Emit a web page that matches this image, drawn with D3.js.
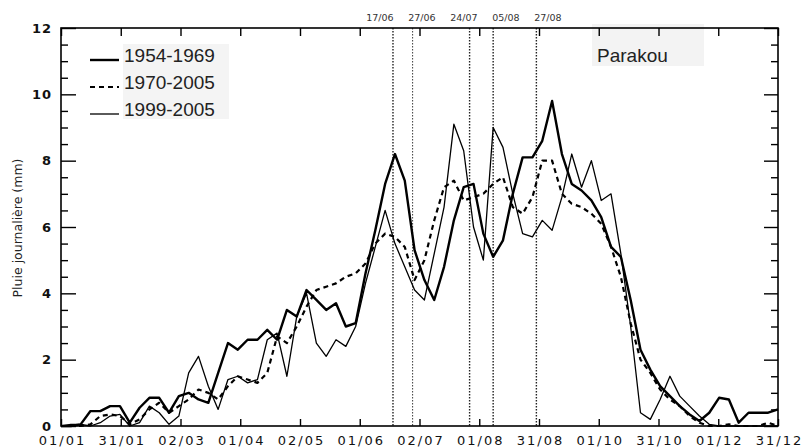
<!DOCTYPE html>
<html>
<head>
<meta charset="utf-8">
<script src="https://cdn.jsdelivr.net/npm/d3@7/dist/d3.min.js"></script>
<style>
  body { margin: 0; background: #fff; }
</style>
</head>
<body>
<svg width="803" height="448"></svg>
<script>
// Daily rainfall (mm), one value every 5 days from 01/01
const rain1954 = [0, 0, 0.05, 0.45, 0.45, 0.6, 0.6, 0.1, 0.55, 0.85, 0.85, 0.4, 0.9, 1.0, 0.8, 0.7,
  1.6, 2.5, 2.3, 2.6, 2.6, 2.9, 2.6, 3.5, 3.3, 4.1, 3.8, 3.5, 3.7, 3.0, 3.1, 4.6, 5.9, 7.3, 8.2, 7.4,
  5.3, 4.4, 3.8, 4.8, 6.2, 7.2, 7.3, 5.8, 5.1, 5.6, 7.0, 8.1, 8.1, 8.6, 9.8, 8.2, 7.3, 7.1, 6.8, 6.3,
  5.4, 5.1, 3.8, 2.3, 1.7, 1.2, 0.9, 0.6, 0.35, 0.15, 0.4, 0.85, 0.8, 0.1, 0.4, 0.4, 0.4, 0.5]
const rain1970 = [0, 0, 0, 0.05, 0.3, 0.35, 0.3, 0.05, 0.2, 0.5, 0.7, 0.4, 0.6, 0.8, 1.1, 1.0,
  0.8, 1.2, 1.5, 1.4, 1.3, 1.6, 2.7, 2.5, 3.0, 3.6, 4.1, 4.2, 4.3, 4.5, 4.6, 4.9, 5.5, 5.8, 5.7, 5.4,
  4.4, 5.0, 6.2, 7.2, 7.4, 6.8, 6.9, 7.0, 7.3, 7.5, 6.6, 6.4, 6.9, 8.0, 8.0, 7.0, 6.7, 6.6, 6.4, 6.1,
  5.4, 4.5, 3.1, 2.0, 1.6, 1.1, 0.8, 0.6, 0.3, 0.1, 0, 0, 0.05, 0, 0, 0, 0.1, 0]
const rain1999 = [0, 0.05, 0.05, 0, 0.1, 0.3, 0.35, 0, 0.1, 0.6, 0.4, 0.05, 0.3, 1.6, 2.1, 1.2,
  0.5, 1.4, 1.5, 1.3, 1.4, 2.6, 2.8, 1.5, 3.3, 4.0, 2.5, 2.1, 2.6, 2.4, 3.0, 4.3, 5.4, 6.5, 5.5, 4.8,
  4.1, 3.8, 5.2, 6.6, 9.1, 8.3, 6.0, 5.0, 9.0, 8.4, 7.0, 5.8, 5.7, 6.2, 5.9, 6.9, 8.2, 7.2, 8.0, 6.8,
  7.0, 5.2, 3.0, 0.4, 0.2, 0.8, 1.5, 0.9, 0.6, 0.3, 0.05, 0, 0, 0, 0, 0, 0, 0]

const seriesNames = ['1954-1969', '1970-2005', '1999-2005']
const xTickLabels = ['01/01', '31/01', '02/03', '01/04', '02/05', '01/06', '02/07',
  '01/08', '31/08', '01/10', '31/10', '01/12', '31/12']
const yTicks = [0, 2, 4, 6, 8, 10, 12]
const markerLabels = ['17/06', '27/06', '24/07', '05/08', '27/08']
const markerDays = [169, 179, 208, 220, 242]
const station = 'Parakou'

let svg = d3.select('svg')
const plotLeft = 61, plotRight = 778, plotTop = 28, plotBottom = 426

const x = d3.scaleLinear().domain([0, 365]).range([plotLeft, plotRight])
const y = d3.scaleLinear().domain([0, 12]).range([plotBottom, plotTop])

// grey boxes behind legend text and station name
svg.append('rect').attr('x', 123).attr('y', 44).attr('width', 106).attr('height', 75).attr('fill', '#f4f4f4')
svg.append('rect').attr('x', 592).attr('y', 24).attr('width', 112).attr('height', 42).attr('fill', '#f3f3f3')

// vertical date markers
svg.append('g')
  .selectAll('line')
  .data(markerDays)
  .enter()
  .append('line')
  .attr('x1', d => x(d)).attr('x2', d => x(d))
  .attr('y1', plotTop).attr('y2', plotBottom)
  .attr('stroke', '#222')
  .attr('stroke-width', (d, i) => (i === 1 ? 0.9 : 1.4))
  .attr('stroke-dasharray', '1.5,1.5')

// spread the marker labels so they do not overlap
let lx = markerDays.map(d => x(d))
const minGap = 42
for (let k = 0; k < 50; k++) {
  for (let i = 0; i < lx.length - 1; i++) {
    const gap = lx[i + 1] - lx[i]
    if (gap < minGap) {
      const push = (minGap - gap) / 2
      lx[i] -= push
      lx[i + 1] += push
    }
  }
}
svg.append('g')
  .selectAll('text')
  .data(markerLabels)
  .enter()
  .append('text')
  .attr('x', (d, i) => lx[i] + 3)
  .attr('y', 21)
  .attr('text-anchor', 'middle')
  .attr('font-family', 'DejaVu Sans, sans-serif')
  .attr('font-size', 9.5)
  .attr('fill', '#333')
  .text(d => d)

// curves
const line = d3.line()
  .x((d, i) => x(i * 5))
  .y(d => y(d))
const styles = [
  { w: 2.4, dash: null },
  { w: 2.2, dash: '5,4' },
  { w: 1.3, dash: null }
]
const allSeries = [rain1954, rain1970, rain1999]
svg.append('g')
  .selectAll('path')
  .data(allSeries)
  .enter()
  .append('path')
  .attr('d', line)
  .attr('fill', 'none')
  .attr('stroke', '#000')
  .attr('stroke-linejoin', 'round')
  .attr('stroke-width', (d, i) => styles[i].w)
  .attr('stroke-dasharray', (d, i) => styles[i].dash)

// axes, ticks pointing inward on all four sides
const xTickVals = xTickLabels.map((d, i) => (i * 365) / 12)
const yMinor = d3.range(0, 12.01, 0.5).filter(v => v % 2 !== 0)

const axisFont = g => g.selectAll('text')
  .attr('font-family', 'DejaVu Sans, sans-serif')
  .attr('fill', '#111')

svg.append('g')
  .attr('transform', `translate(0,${plotBottom})`)
  .call(d3.axisBottom(x).tickValues(xTickVals).tickFormat((d, i) => xTickLabels[i])
    .tickSizeInner(-7).tickSizeOuter(0).tickPadding(10))
  .call(axisFont)
  .call(g => g.selectAll('text').attr('font-size', 13).attr('letter-spacing', 2).attr('dx', 1))

svg.append('g')
  .attr('transform', `translate(0,${plotTop})`)
  .call(d3.axisTop(x).tickValues(xTickVals).tickFormat('').tickSizeInner(-8).tickSizeOuter(0))

svg.append('g')
  .attr('transform', `translate(${plotLeft},0)`)
  .call(d3.axisLeft(y).tickValues(yTicks).tickFormat(d3.format('d'))
    .tickSizeInner(-15).tickSizeOuter(0).tickPadding(9))
  .call(axisFont)
  .call(g => g.selectAll('text').attr('font-size', 13).attr('font-weight', 'bold').attr('letter-spacing', 1))

svg.append('g')
  .attr('transform', `translate(${plotLeft},0)`)
  .call(d3.axisLeft(y).tickValues(yMinor).tickFormat('').tickSizeInner(-7).tickSizeOuter(0))

svg.append('g')
  .attr('transform', `translate(${plotRight},0)`)
  .call(d3.axisRight(y).tickValues(yTicks).tickFormat('').tickSizeInner(-14).tickSizeOuter(0))

svg.append('g')
  .attr('transform', `translate(${plotRight},0)`)
  .call(d3.axisRight(y).tickValues(yMinor).tickFormat('').tickSizeInner(-7).tickSizeOuter(0))

svg.selectAll('.domain').remove()
svg.selectAll('.tick line').attr('stroke', '#000').attr('stroke-width', 1.4)

// frame
svg.append('rect')
  .attr('x', plotLeft).attr('y', plotTop)
  .attr('width', plotRight - plotLeft).attr('height', plotBottom - plotTop)
  .attr('fill', 'none')
  .attr('stroke', '#000')
  .attr('stroke-width', 1.6)

// y axis title
svg.append('text')
  .attr('transform', `translate(22,228) rotate(-90)`)
  .attr('text-anchor', 'middle')
  .attr('font-family', 'DejaVu Sans, sans-serif')
  .attr('font-size', 12.5)
  .attr('fill', '#222')
  .text('Pluie journalière (mm)')

// legend
let legend = svg.append('g').attr('id', 'legend')
const legendRows = legend.selectAll('g')
  .data(seriesNames)
  .enter()
  .append('g')
  .attr('transform', (d, i) => `translate(90,${60 + i * 27})`)
legendRows.append('line')
  .attr('x1', 0).attr('x2', 29)
  .attr('stroke', '#000')
  .attr('stroke-width', (d, i) => styles[i].w)
  .attr('stroke-dasharray', (d, i) => (styles[i].dash ? '5,4' : null))
legendRows.append('text')
  .attr('x', 34)
  .attr('y', 2)
  .attr('font-family', 'Liberation Sans, Arial, sans-serif')
  .attr('font-size', 19)
  .attr('fill', '#222')
  .text(d => d)

// station name
svg.append('text')
  .attr('x', 597)
  .attr('y', 62)
  .attr('font-family', 'Liberation Sans, Arial, sans-serif')
  .attr('font-size', 19)
  .attr('fill', '#222')
  .text(station)
</script>
</body>
</html>
